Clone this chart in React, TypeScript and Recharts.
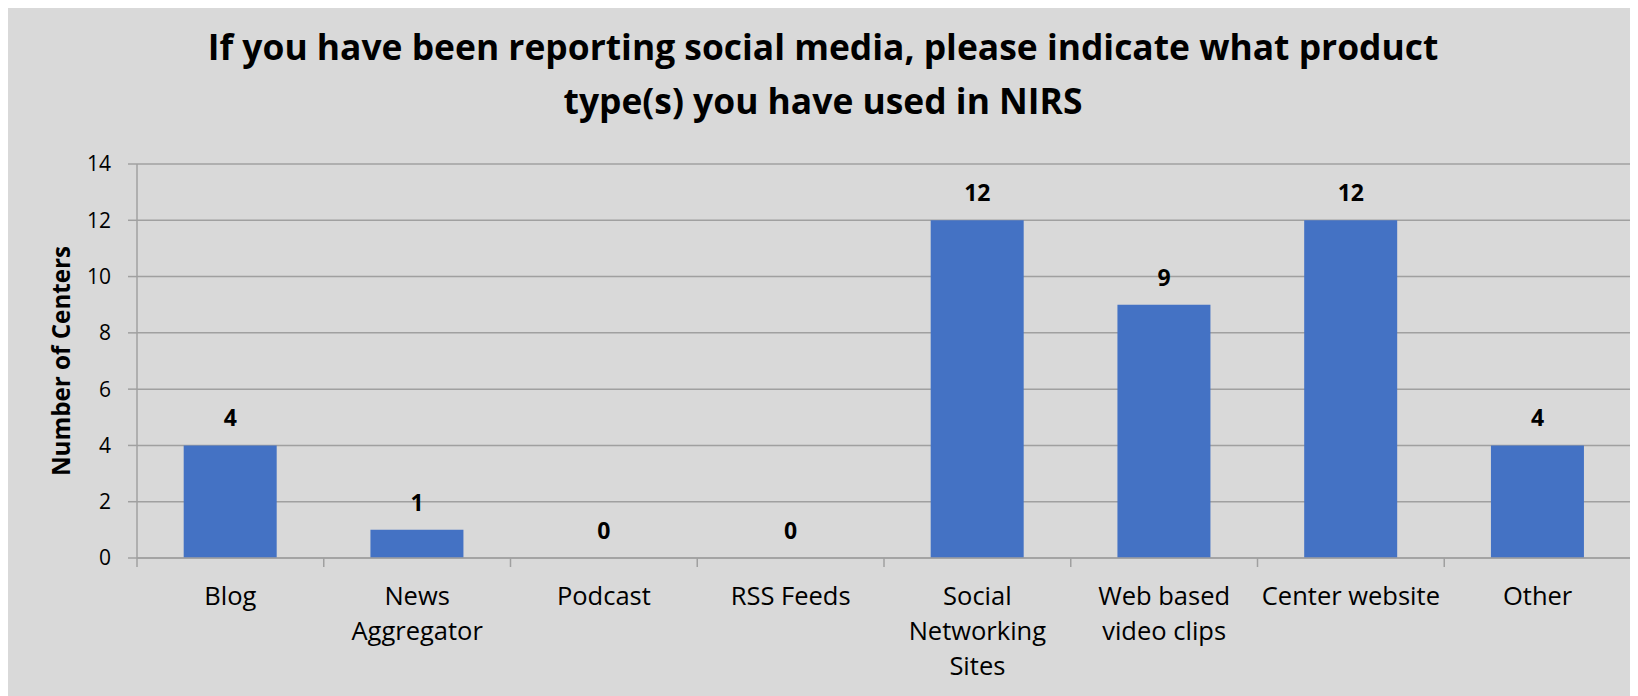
import React from "react";
import { ComposedChart, Bar, Line, XAxis, YAxis, CartesianGrid, LabelList, Label } from "recharts";

const categories = [
  "Blog",
  "News Aggregator",
  "Podcast",
  "RSS Feeds",
  "Social Networking Sites",
  "Web based video clips",
  "Center website",
  "Other",
];
const counts = [4, 1, 0, 0, 12, 9, 12, 4];
const xTickLines = [
  ["Blog"],
  ["News", "Aggregator"],
  ["Podcast"],
  ["RSS Feeds"],
  ["Social", "Networking", "Sites"],
  ["Web based", "video clips"],
  ["Center website"],
  ["Other"],
];
const yTicks = [0, 2, 4, 6, 8, 10, 12, 14];
const titleLines = [
  "If you have been reporting social media, please indicate what product",
  "type(s) you have used in NIRS",
];
const yAxisTitle = "Number of Centers";

const data = categories.map((c, i) => ({ name: c, value: counts[i] }));

const FONT = "'Open Sans', 'Noto Sans', sans-serif";
const GRID = "#a0a0a0";

const XTick = (props: any) => {
  const { x, y, payload, index, visibleTicksCount } = props;
  const idx = payload?.index ?? index;
  const half = payload?.offset ?? 93.375;
  const lines = xTickLines[idx] || [String(payload.value)];
  const count = visibleTicksCount ?? categories.length;
  return (
    <g>
      <line x1={x - half} x2={x - half} y1={y} y2={y + 9} stroke={GRID} strokeWidth={1.5} />
      {idx === count - 1 && (
        <line x1={x + half} x2={x + half} y1={y} y2={y + 9} stroke={GRID} strokeWidth={1.5} />
      )}
      <text x={x} y={y + 47} textAnchor="middle" fontFamily={FONT} fontSize={25.5} fill="#000">
        {lines.map((l: string, i: number) => (
          <tspan key={i} x={x} dy={i === 0 ? 0 : 35}>
            {l}
          </tspan>
        ))}
      </text>
    </g>
  );
};

const YLabel = (props: any) => {
  const vb = props.viewBox || { x: 0, y: 158, width: 129, height: 394 };
  const cx = vb.x + 52;
  const cy = vb.y + vb.height / 2;
  return (
    <text
      x={cx}
      y={cy}
      transform={`rotate(-90, ${cx}, ${cy})`}
      textAnchor="middle"
      dominantBaseline="central"
      fontFamily={FONT}
      fontWeight="bold"
      fontSize={24.2}
      fill="#000"
    >
      {yAxisTitle}
    </text>
  );
};

export default function App() {
  return (
    <div
      style={{
        position: "relative",
        marginTop: -2,
        width: 1630,
        height: 690,
        background: "#d9d9d9",
        fontFamily: FONT,
      }}
    >
      <div
        style={{
          position: "absolute",
          left: 0,
          top: 13,
          width: 1630,
          textAlign: "center",
          fontFamily: FONT,
          fontWeight: "bold",
          fontSize: 35.4,
          lineHeight: "54px",
          color: "#000",
        }}
      >
        {titleLines.map((t, i) => (
          <div key={i}>{t}</div>
        ))}
      </div>
      <div style={{ position: "absolute", left: 0, top: 0 }}>
        <ComposedChart
          width={1630}
          height={690}
          data={data}
          margin={{ top: 158, right: 7, bottom: 0, left: 0 }}
          barCategoryGap="25%"
        >
          <CartesianGrid vertical={false} stroke={GRID} strokeWidth={1.5} />
          <XAxis
            dataKey="name"
            height={138}
            tickSize={0}
            tickMargin={0}
            tickLine={false}
            axisLine={{ stroke: GRID, strokeWidth: 1.5 }}
            interval={0}
            tick={<XTick />}
          />
          <YAxis
            width={129}
            domain={[0, 14]}
            ticks={yTicks}
            interval={0}
            tickSize={9}
            tickMargin={17}
            tickLine={{ stroke: GRID, strokeWidth: 1.5 }}
            axisLine={{ stroke: GRID, strokeWidth: 1.5 }}
            tick={{ fontFamily: FONT, fontSize: 21, fill: "#000" }}
          >
            <Label content={<YLabel />} />
          </YAxis>
          <Bar dataKey="value" fill="#4472c4" isAnimationActive={false} />
          <Line
            dataKey="value"
            stroke="none"
            dot={false}
            activeDot={false}
            legendType="none"
            isAnimationActive={false}
          >
            <LabelList
              dataKey="value"
              position="top"
              offset={19}
              style={{ fontFamily: FONT, fontWeight: "bold", fontSize: 23, fill: "#000" }}
            />
          </Line>
        </ComposedChart>
      </div>
    </div>
  );
}
